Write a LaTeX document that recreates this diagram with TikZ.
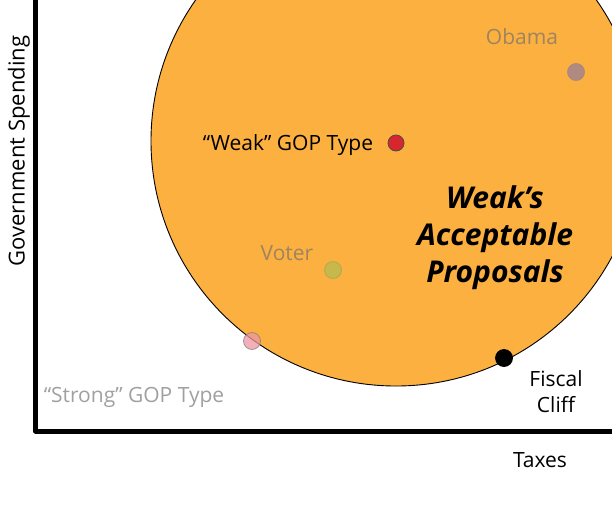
\documentclass[tikz,border=0pt]{standalone}
\usepackage{fontspec}
\setmainfont{Open Sans}
\definecolor{accept}{RGB}{251,176,64}
\definecolor{faded}{RGB}{160,160,160}
\definecolor{fadedon}{RGB}{158,132,96}
\definecolor{weakred}{RGB}{215,38,46}
\definecolor{voterdot}{RGB}{199,184,74}
\definecolor{obamadot}{RGB}{176,138,128}
\definecolor{strongdot}{RGB}{238,150,160}

\begin{document}
\begin{tikzpicture}[x=1pt,y=-1pt,
  lbl/.style={font=\fontsize{21}{26}\selectfont, inner sep=0pt},
  dot/.style={circle, minimum size=17pt, inner sep=0pt, draw, line width=0.8pt}]
\useasboundingbox (0,0) rectangle (612,504);
\clip (0,0) rectangle (612,504);
\node[circle, minimum size=490pt, inner sep=0pt, fill=accept, draw, line width=0.9pt] (region) at (396,141) {};
\draw[line width=5pt, line join=round] (35.5,0) -- (35.5,431) -- (612,431);
\node[lbl, rotate=90, font=\fontsize{22}{26}\selectfont] (spend) at (19,151) {Government Spending};
\node[lbl] (taxes) at (540,460) {Taxes};
\node[lbl, align=center] (cliff) at (556,392) {Fiscal\\Cliff};
\node[dot, fill=black] (cliffdot) at (504,358) {};
\node[lbl, text=faded] (strong) at (134,397) {“Strong” GOP Type};
\node[dot, fill=strongdot, draw=gray, opacity=0.75] (strongdot) at (252,341) {};
\node[lbl, text=fadedon] (voter) at (287,253) {Voter};
\node[dot, fill=voterdot, draw=voterdot!70!gray] (voterdot) at (333,270) {};
\node[lbl, text=fadedon] (obama) at (522,37) {Obama};
\node[dot, fill=obamadot, draw=obamadot!90!gray] (obamadot) at (576,72) {};
\node[lbl] (weak) at (288,145) {“Weak” GOP Type};
\node[dot, fill=weakred, draw=black!70, minimum size=16pt] (weakdot) at (396,143) {};
\node[align=center, inner sep=0pt, font=\fontsize{30}{37}\selectfont\bfseries\itshape] (accepttext) at (495,238) {Weak’s\\Acceptable\\Proposals};
\end{tikzpicture}
\end{document}
